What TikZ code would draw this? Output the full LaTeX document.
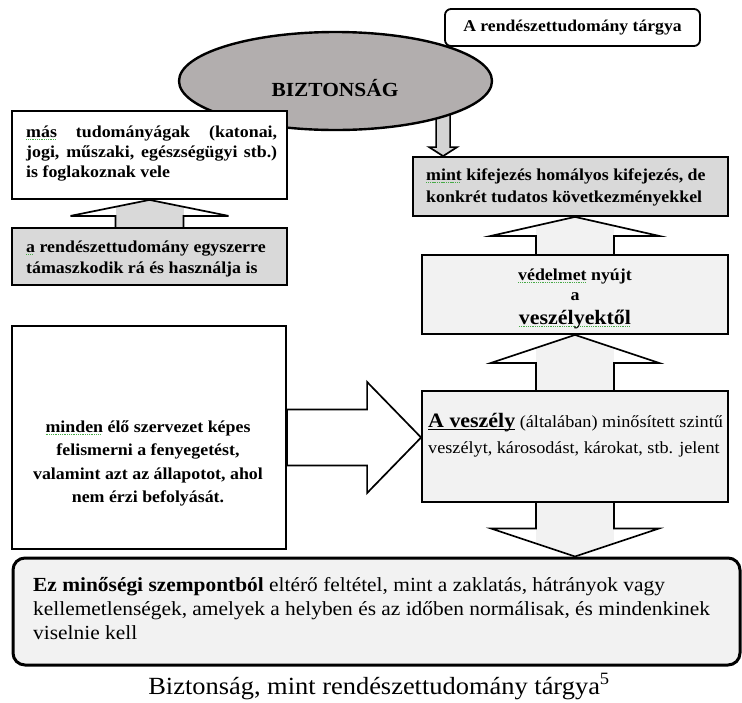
\documentclass[tikz,border=0pt]{standalone}
\usepackage{fontspec}
\setmainfont{Liberation Serif}[FakeStretch=1.07]
\usetikzlibrary{shapes.geometric,calc,backgrounds}
\definecolor{ellgray}{RGB}{178,174,174}
\definecolor{boxgray}{RGB}{217,217,217}
\definecolor{boxlight}{RGB}{242,242,242}
\definecolor{arrgray}{RGB}{212,212,212}
\definecolor{spellgreen}{RGB}{70,170,70}
\newsavebox\gwbox
\newcommand\gw[1]{\sbox\gwbox{#1}\rlap{\color{spellgreen}\leaders\hbox{\rule[-3pt]{1.1pt}{0.7pt}\hspace{0.7pt}}\hskip\wd\gwbox}\usebox\gwbox}
\newcommand\dul[1]{\sbox\gwbox{#1}\rlap{\rule[-3pt]{\wd\gwbox}{1.3pt}}\usebox\gwbox}
\newcommand\myfb{\bfseries\fontsize{16.7}{20}\selectfont\hyphenpenalty=10000\tolerance=9999}
\begin{document}
\begin{tikzpicture}[x=1pt,y=-1pt,
  box/.style={draw, line width=1.8pt, rectangle, inner sep=0pt},
  blk/.style={draw, line width=1.7pt, line join=miter, miter limit=10},
  wing/.style 2 args={fill=white, path picture={\fill[#1] ([xshift=-#2]path picture bounding box.north) rectangle ([xshift=#2]path picture bounding box.south);}},
  btxt/.style={inner sep=0pt, font=\myfb},
]
\useasboundingbox (0,0) rectangle (742,702);

% ellipse and title
\node[ellipse, draw, line width=2.4pt, fill=ellgray, minimum width=313pt, minimum height=98pt, inner sep=0pt] (E) at (335.5,81) {};
\node[inner sep=0pt, font=\bfseries\fontsize{20}{24}\selectfont] (Et) at (335,88) {BIZTONSÁG};
\node[box, rounded corners=6pt, fill=white, minimum width=255pt, minimum height=37pt, font=\bfseries\fontsize{16.5}{20}\selectfont] (T) at (572.5,27.5) {A rendészettudomány tárgya};

% left column
\node[box, fill=white, minimum width=275pt, minimum height=88pt] (L1) at (149.5,155) {};
\node[btxt, text width=251pt, align=justify, anchor=base west] (L1t) at (26,137) {\gw{más} tudományágak (katonai, jogi, műszaki, egészségügyi stb.) is foglakoznak vele};
\node[box, fill=boxgray, minimum width=275pt, minimum height=57pt] (L2) at (149.5,256.5) {};
\node[btxt, align=left, anchor=base west, font=\myfb\fontsize{16.7}{21}\selectfont] (L2t) at (26,273) {\gw{a} rendészettudomány egyszerre\\támaszkodik rá és használja is};
\node[box, fill=white, minimum width=274pt, minimum height=223pt] (L3) at (149,437.5) {};
\node[btxt, align=center, anchor=base, font=\myfb\fontsize{16.7}{23.6}\selectfont] (L3t) at (148,502.8) {\gw{minden} élő szervezet képes\\felismerni a fenyegetést,\\valamint azt az állapotot, ahol\\nem érzi befolyását.};

% right column
\node[box, fill=boxgray, minimum width=315pt, minimum height=59pt] (R1) at (570.5,186.5) {};
\node[btxt, align=left, anchor=base west, font=\myfb\fontsize{16.7}{22}\selectfont] (R1t) at (426,202) {\gw{mint} kifejezés homályos kifejezés, de\\konkrét tudatos következményekkel};
\node[box, fill=boxlight, minimum width=306pt, minimum height=79pt] (R2) at (575,294.5) {};
\node[btxt, anchor=base] (R2a) at (575,280) {\gw{védelmet} nyújt};
\node[btxt, anchor=base] (R2b) at (575,300) {a};
\node[btxt, anchor=base, font=\bfseries\fontsize{20.5}{24}\selectfont] (R2c) at (575,324) {\gw{veszélyektől}};
\node[box, fill=boxlight, minimum width=306pt, minimum height=111pt] (R3) at (575,446.5) {};
\node[inner sep=0pt, anchor=base west, font=\fontsize{17}{20}\selectfont] (R3a) at (428,427) {{\bfseries\fontsize{20.5}{24}\selectfont\dul{A veszély}} (általában) minősített szintű};
\node[inner sep=0pt, anchor=base west, font=\fontsize{17}{20}\selectfont] (R3b) at (428,453) {veszélyt, károsodást, károkat, stb. jelent};

% bottom box and caption
\node[draw, line width=3pt, rounded corners=12pt, fill=boxlight, minimum width=727pt, minimum height=107pt, inner sep=0pt] (B) at (376.5,611.5) {};
\node[inner sep=0pt, align=left, anchor=base west, font=\fontsize{20}{24}\selectfont] (Bt) at (33,639) {\textbf{Ez minőségi szempontból} eltérő feltétel, mint a zaklatás, hátrányok vagy\\kellemetlenségek, amelyek a helyben és az időben normálisak, és mindenkinek\\viselnie kell};
\node[inner sep=0pt, anchor=base, font=\fontsize{24.7}{28}\selectfont] (cap) at (379,694) {Biztonság, mint rendészettudomány tárgya\textsuperscript{5}};

% block arrows
\begin{scope}[on background layer]
\draw[blk, fill=arrgray] ($(R1.north west)+(31,0)$) -- ++(14,-9) -- ++(-7,0) -- ++(0,-40) -- ++(-14,0) -- ++(0,40) -- ++(-7,0) -- cycle;
\draw[blk, wing={boxgray}{34pt}] (L1.south) -- ++(79,16) -- ++(-45,0) -- ++(0,14) -- ++(-68,0) -- ++(0,-14) -- ++(-45,0) -- cycle;
\draw[blk, wing={boxlight}{39pt}] (R2.north |- R1.south) -- ++(84,19) -- ++(-45,0) -- ++(0,21) -- ++(-78,0) -- ++(0,-21) -- ++(-45,0) -- cycle;
\draw[blk, wing={boxlight}{39pt}] (R2.south) -- ++(84,28) -- ++(-45,0) -- ($(R2.south |- B.north)+(39,-28)$) -- ++(45,0) -- (R2.south |- B.north) -- ++(-84,-28) -- ++(45,0) -- ($(R2.south)+(-39,28)$) -- ++(-45,0) -- cycle;
\draw[blk, fill=white] (R3.west |- L3.east) -- ++(-54,-55.5) -- ++(0,27.5) -- ($(L3.east)+(0,-28)$) -- ($(L3.east)+(0,28)$) -- ($(R3.west |- L3.east)+(-54,28)$) -- ++(0,27.5) -- cycle;
\end{scope}
\end{tikzpicture}
\end{document}
